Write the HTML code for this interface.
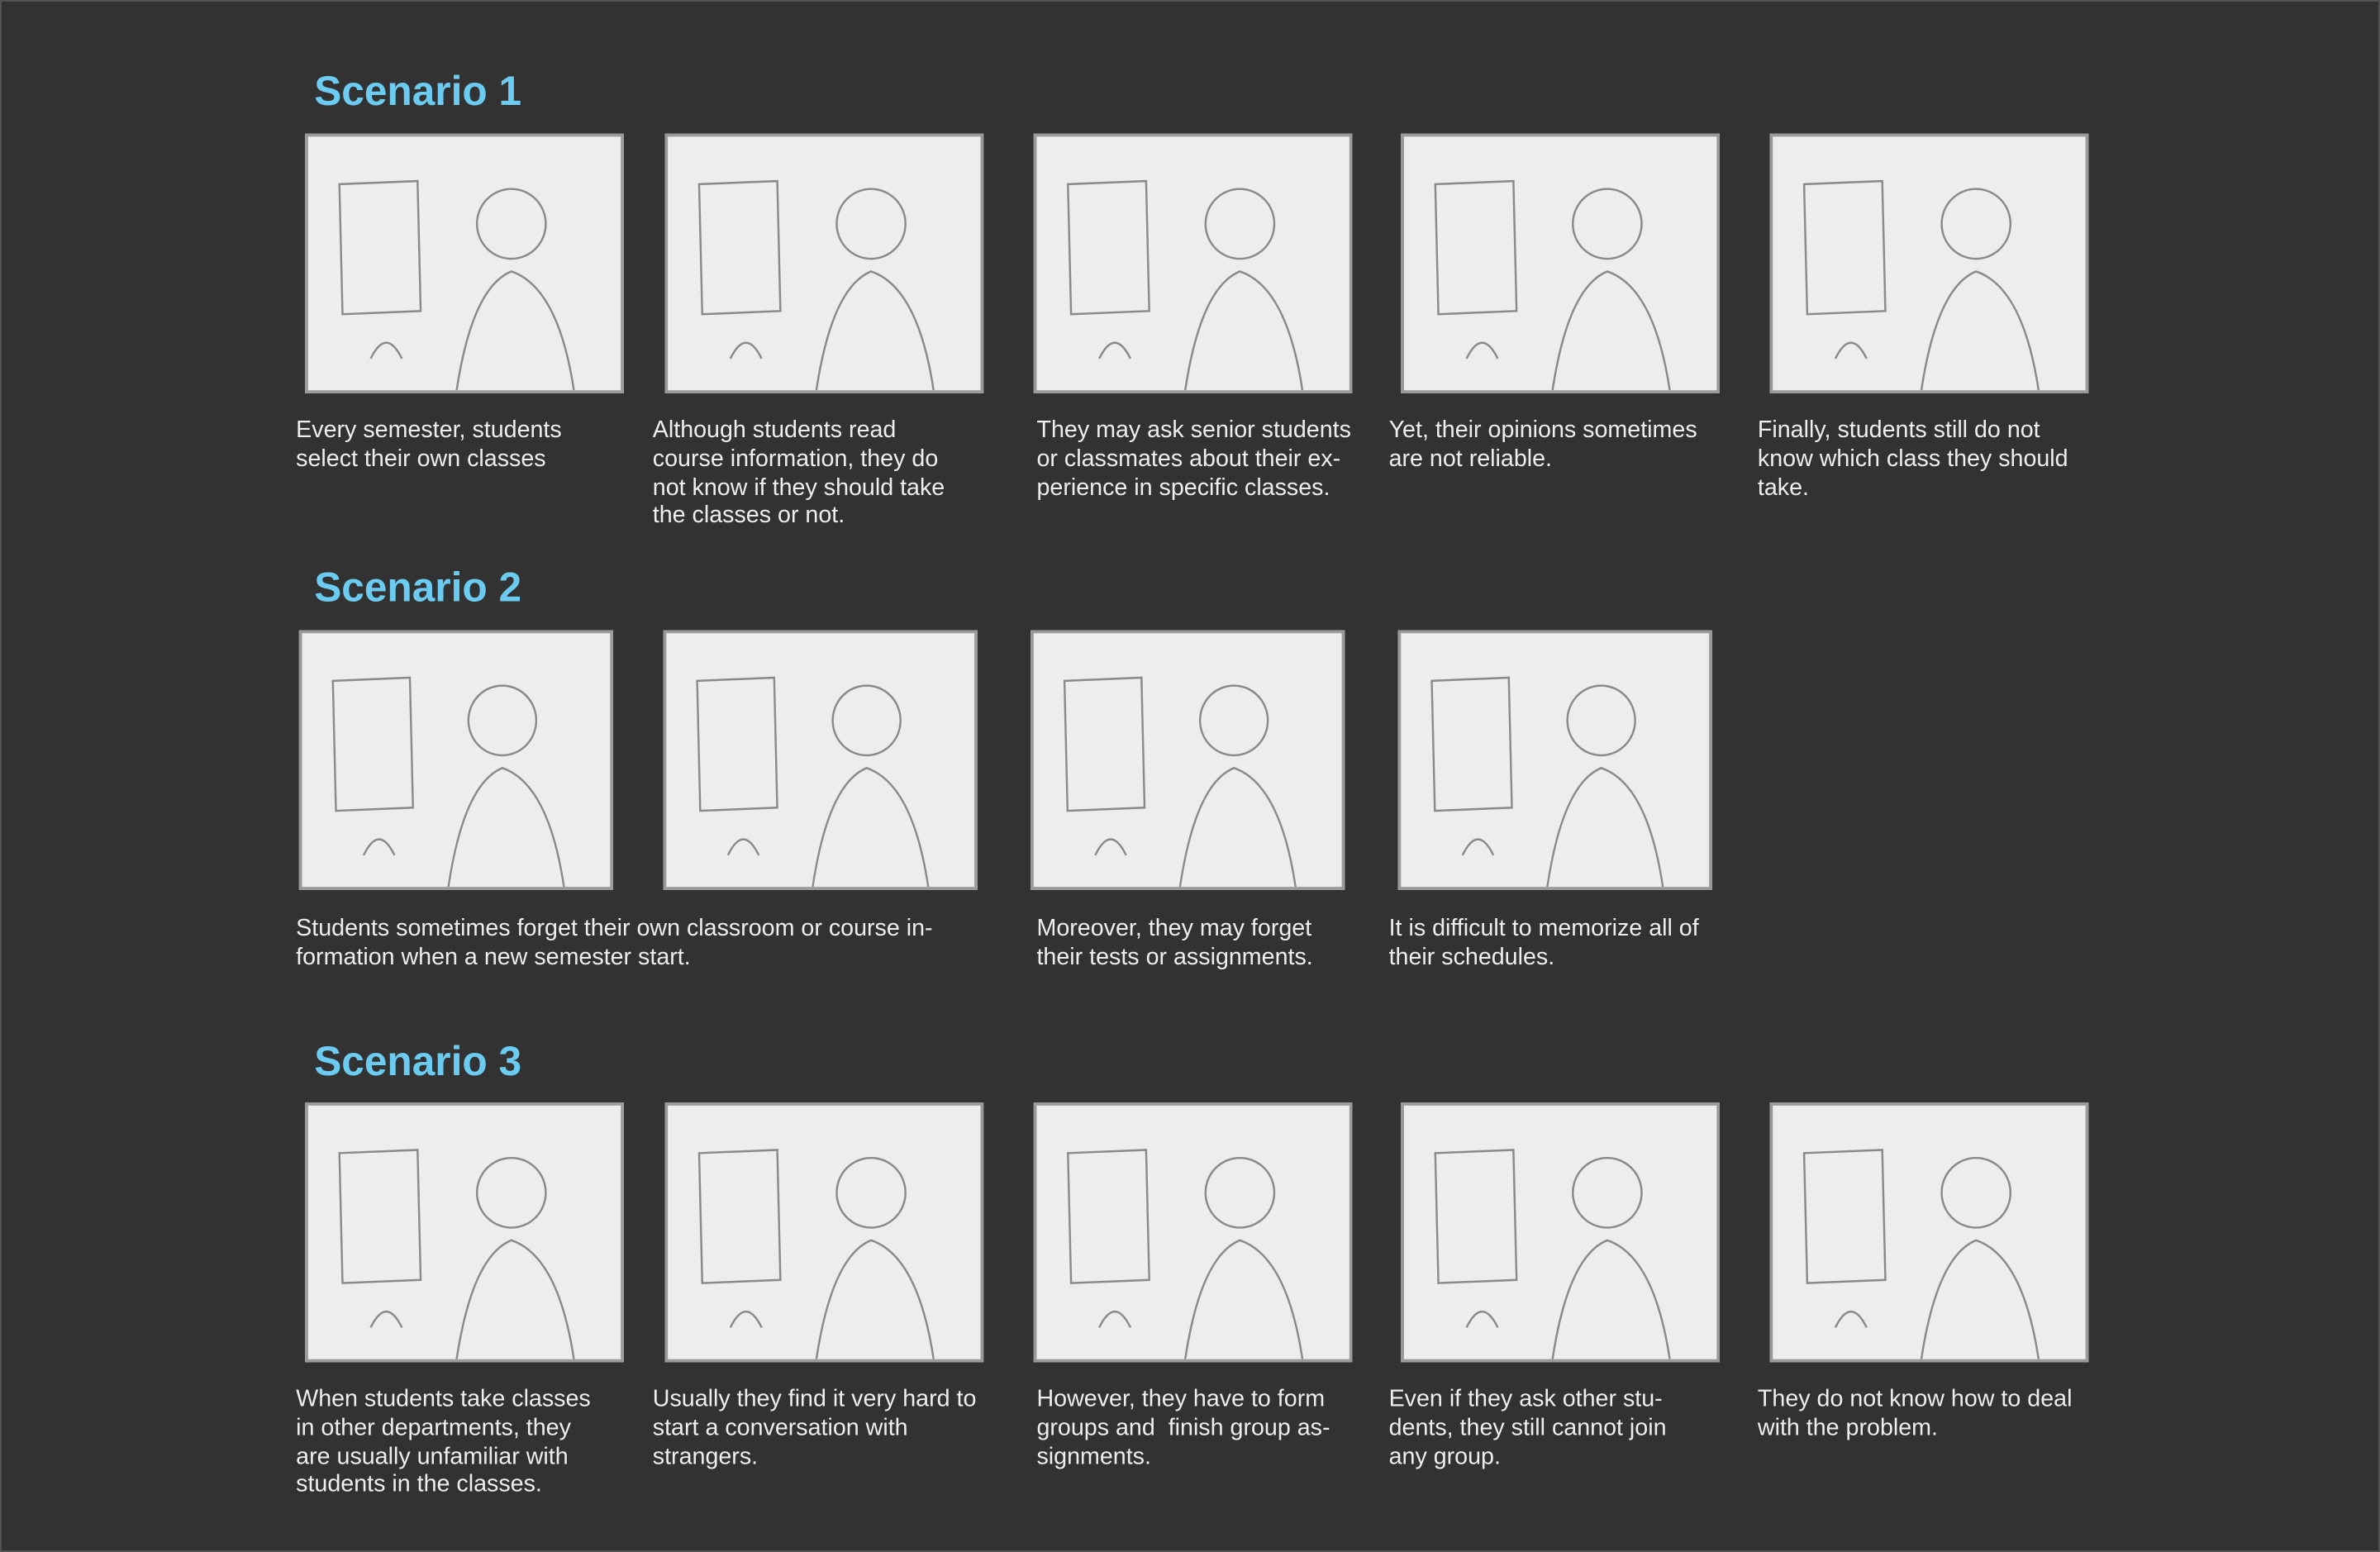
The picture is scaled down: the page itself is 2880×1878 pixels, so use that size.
<!DOCTYPE html>
<html><head><meta charset="utf-8">
<style>
html,body{margin:0;padding:0;background:#323232;}
body{width:2880px;height:1878px;overflow:hidden;}
#stage{position:absolute;left:0;top:0;width:1568px;height:1022px;transform:scale(1.8367,1.8376);transform-origin:0 0;background:#323232;border:1px solid #555;box-sizing:border-box;}
.title{position:absolute;font-family:"Liberation Sans",sans-serif;font-weight:bold;font-size:27px;color:#6ccbf0;line-height:1;}
.panel{position:absolute;width:206px;height:168px;background:#ededed;border:2px solid #9a9a9a;box-sizing:border-box;overflow:hidden;}
.panel svg{width:100%;height:100%;}
.cap{position:absolute;font-family:"Liberation Sans",sans-serif;font-size:15.6px;line-height:18.8px;color:#eeeeee;white-space:nowrap;}
</style></head>
<body>
<div id="stage">

<div class="title" style="left:206px;top:46px">Scenario 1</div>
<div class="title" style="left:206px;top:373px">Scenario 2</div>
<div class="title" style="left:206px;top:685px">Scenario 3</div>

<div class="panel" style="left:200px;top:87px;width:210px;height:171px"></div>
<div class="panel" style="left:437px;top:87px;width:210px;height:171px"></div>
<div class="panel" style="left:680px;top:87px;width:210px;height:171px"></div>
<div class="panel" style="left:922px;top:87px;width:210px;height:171px"></div>
<div class="panel" style="left:1165px;top:87px;width:210px;height:171px"></div>

<div class="cap" style="left:194px;top:274px">Every semester, students<br>select their own classes</div>
<div class="cap" style="left:429px;top:274px">Although students read<br>course information, they do<br>not know if they should take<br>the classes or not.</div>
<div class="cap" style="left:682px;top:274px">They may ask senior students<br>or classmates about their ex-<br>perience in specific classes.</div>
<div class="cap" style="left:914px;top:274px">Yet, their opinions sometimes<br>are not reliable.</div>
<div class="cap" style="left:1157px;top:274px">Finally, students still do not<br>know which class they should<br>take.</div>

<div class="panel" style="left:196px;top:414px;width:207px;height:171px"></div>
<div class="panel" style="left:436px;top:414px;width:207px;height:171px"></div>
<div class="panel" style="left:678px;top:414px;width:207px;height:171px"></div>
<div class="panel" style="left:920px;top:414px;width:207px;height:171px"></div>

<div class="cap" style="left:194px;top:602px">Students sometimes forget their own classroom or course in-<br>formation when a new semester start.</div>
<div class="cap" style="left:682px;top:602px">Moreover, they may forget<br>their tests or assignments.</div>
<div class="cap" style="left:914px;top:602px">It is difficult to memorize all of<br>their schedules.</div>

<div class="panel" style="left:200px;top:725px;width:210px;height:171px"></div>
<div class="panel" style="left:437px;top:725px;width:210px;height:171px"></div>
<div class="panel" style="left:680px;top:725px;width:210px;height:171px"></div>
<div class="panel" style="left:922px;top:725px;width:210px;height:171px"></div>
<div class="panel" style="left:1165px;top:725px;width:210px;height:171px"></div>

<div class="cap" style="left:194px;top:912px">When students take classes<br>in other departments, they<br>are usually unfamiliar with<br>students in the classes.</div>
<div class="cap" style="left:429px;top:912px">Usually they find it very hard to<br>start a conversation with<br>strangers.</div>
<div class="cap" style="left:682px;top:912px">However, they have to form<br>groups and &nbsp;finish group as-<br>signments.</div>
<div class="cap" style="left:914px;top:912px">Even if they ask other stu-<br>dents, they still cannot join<br>any group.</div>
<div class="cap" style="left:1157px;top:912px">They do not know how to deal<br>with the problem.</div>

</div>
<script>
document.querySelectorAll('.panel').forEach(function(p){
  var ns='http://www.w3.org/2000/svg';
  var s=document.createElementNS(ns,'svg');
  s.setAttribute('viewBox','0 0 200 160');
  s.setAttribute('preserveAspectRatio','none');
  s.innerHTML='<g fill="none" stroke="#8a8a8a" stroke-width="1.3">'+
    '<circle cx="130" cy="55" r="22"/><path d="M95 160 Q105 95 130 85 Q160 95 170 160"/>'+
    '<path d="M20 30 L70 28 L72 110 L22 112 Z"/><path d="M40 140 q10 -20 20 0"/></g>';
  p.appendChild(s);
});
</script>
</body></html>
